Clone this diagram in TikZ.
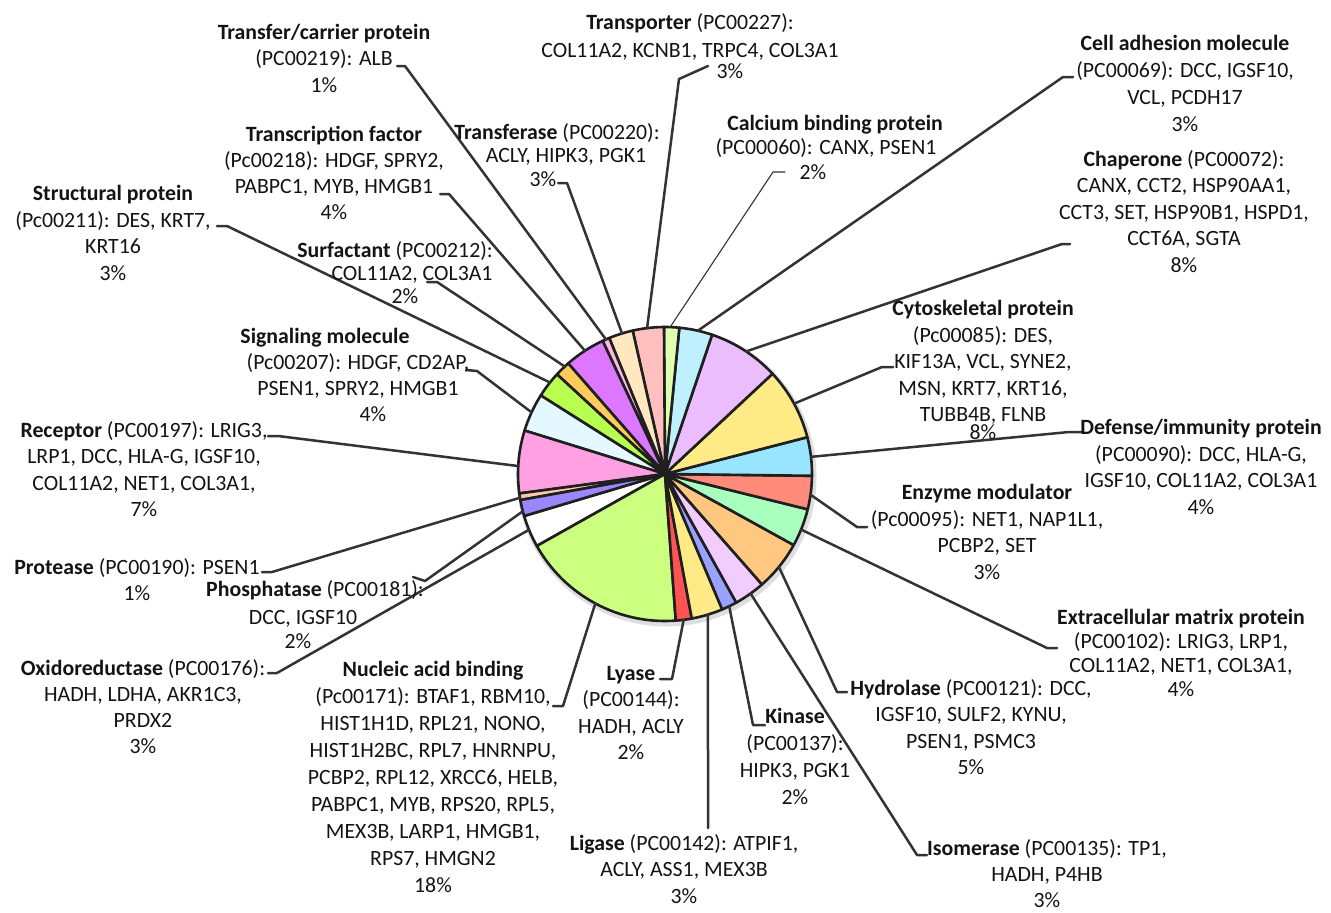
\documentclass[tikz,border=0pt]{standalone}
\usepackage{fontspec}
\setmainfont{Carlito}
\usetikzlibrary{calc}
\definecolor{cOxi}{HTML}{FFFFFF}
\definecolor{cNuc}{HTML}{CCFF80}
\definecolor{cLya}{HTML}{FF5252}
\definecolor{cLig}{HTML}{FFEA85}
\definecolor{cKin}{HTML}{99A3FF}
\definecolor{cIso}{HTML}{F2CCFF}
\definecolor{cHyd}{HTML}{FFC77F}
\definecolor{cECM}{HTML}{A8FFBE}
\definecolor{cEnz}{HTML}{FF8B7B}
\definecolor{cDef}{HTML}{99E5FF}
\definecolor{cCyto}{HTML}{FFEB85}
\definecolor{cChap}{HTML}{EBBDFC}
\definecolor{cCell}{HTML}{BFF0FF}
\definecolor{cCalc}{HTML}{E0FFB0}
\definecolor{cTP}{HTML}{FFBFBF}
\definecolor{cTfase}{HTML}{FFE8BF}
\definecolor{cTC}{HTML}{FFB8E0}
\definecolor{cTF}{HTML}{DE77FF}
\definecolor{cSurf}{HTML}{FFCC5C}
\definecolor{cStr}{HTML}{B8FF50}
\definecolor{cSig}{HTML}{E6F8FF}
\definecolor{cRec}{HTML}{FFA0E3}
\definecolor{cProt}{HTML}{FFC8A8}
\definecolor{cPho}{HTML}{9A86FF}
\definecolor{ink}{HTML}{141414}
\definecolor{leadc}{HTML}{333333}
\begin{document}
\begin{tikzpicture}[x=1pt,y=-1pt,
  lbl/.style={align=center, inner sep=0pt, anchor=north, text=ink, font=\fontsize{21.8}{26.5}\selectfont},
  leader/.style={draw=leadc, line width=2.5pt, line join=round, line cap=round},
  thinleader/.style={draw=leadc, line width=1.1pt, line join=round, line cap=round},
  slice/.style={draw=black!88, line width=2.6pt, line join=round}]
\useasboundingbox (0,0) rectangle (1331,913);
\fill[white] (0,0) rectangle (1331,913);

% ---------- pie ----------
\begin{scope}[shift={(665,474)}, yscale=-1]
  \fill[black!13] (1.5,-2.5) circle[radius=150];
  \foreach \a/\b/\c in {-163.4/-150.7/cOxi, -150.7/-85.8/cNuc, -85.8/-79.5/cLya,
      -79.5/-67.1/cLig, -67.1/-61/cKin, -61/-48.7/cIso, -48.7/-28.9/cHyd,
      -28.9/-13.9/cECM, -13.9/-0.7/cEnz, -0.7/14.5/cDef, 14.5/43/cCyto,
      43/71.3/cChap, 71.3/84.4/cCell, 84.4/90.4/cCalc, 90.4/102.7/cTP,
      102.7/112.3/cTfase, 112.3/115.1/cTC, 115.1/131.2/cTF, 131.2/137.3/cSurf,
      137.3/147.7/cStr, 147.7/162.8/cSig, 162.8/187.6/cRec, 187.6/190.2/cProt,
      190.2/196.6/cPho}
    \filldraw[slice, fill=\c] (0,0) -- (\a:147) arc[start angle=\a, end angle=\b, radius=147] -- cycle;
  % pie-side ends of the leader lines
  \coordinate (pTC) at (113.7:147);
  \coordinate (pTP) at (97:147);
  \coordinate (pTfase) at (107:147);
  \coordinate (pCalc) at (88:147);
  \coordinate (pCell) at (77.1:147);
  \coordinate (pChap) at (56.5:147);
  \coordinate (pCyto) at (28.6:147);
  \coordinate (pDef) at (6.7:147);
  \coordinate (pEnz) at (-8.1:147);
  \coordinate (pECM) at (-22.2:147);
  \coordinate (pHyd) at (-39.2:147);
  \coordinate (pIso) at (-54.4:147);
  \coordinate (pKin) at (-64.1:147);
  \coordinate (pLig) at (-73:147);
  \coordinate (pLya) at (-82.7:147);
  \coordinate (pNuc) at (-118.3:147);
  \coordinate (pOxi) at (202.3:147);
  \coordinate (pPho) at (194.7:147);
  \coordinate (pProt) at (189.3:147);
  \coordinate (pRec) at (176.9:147);
  \coordinate (pSig) at (155.2:147);
  \coordinate (pStr) at (141.5:147);
  \coordinate (pSurf) at (133:147);
  \coordinate (pTF) at (123:147);
\end{scope}

% ---------- label-side ends (ticks) ----------
\coordinate (aTC) at (397,66);   \coordinate (bTC) at (405,66);
\coordinate (aTP) at (708,66);   \coordinate (bTP) at (679,79);
\coordinate (aTfase) at (558,183); \coordinate (bTfase) at (567,183);
\coordinate (aCalc) at (785,172); \coordinate (bCalc) at (773,172);
\coordinate (aCell) at (1073,77); \coordinate (bCell) at (1063,77);
\coordinate (aChap) at (1070,244); \coordinate (bChap) at (1062,244);
\coordinate (aCyto) at (893,367); \coordinate (bCyto) at (882,367);
\coordinate (aDef) at (1081,432); \coordinate (bDef) at (1069,432);
\coordinate (aEnz) at (867,527); \coordinate (bEnz) at (857,527);
\coordinate (aECM) at (1057,648); \coordinate (bECM) at (1047,648);
\coordinate (aHyd) at (847,692); \coordinate (bHyd) at (837,692);
\coordinate (aIso) at (927,855); \coordinate (bIso) at (917,855);
\coordinate (aKin) at (765,725); \coordinate (bKin) at (753,725);
\coordinate (bLig) at (708,828);
\coordinate (aLya) at (660,679); \coordinate (bLya) at (672,679);
\coordinate (aNuc) at (553,706); \coordinate (bNuc) at (563,706);
\coordinate (aOxi) at (268,673); \coordinate (bOxi) at (277,673);
\coordinate (aPho) at (413,577); \coordinate (bPho) at (425,581);
\coordinate (aProt) at (262,572); \coordinate (bProt) at (272,572);
\coordinate (aRec) at (268,436); \coordinate (bRec) at (278,436);
\coordinate (aSig) at (466,370); \coordinate (bSig) at (477,371);
\coordinate (aStr) at (217,226); \coordinate (bStr) at (227,226);
\coordinate (aSurf) at (427,282); \coordinate (bSurf) at (437,282);
\coordinate (aTF) at (440,194); \coordinate (bTF) at (449,194);

% ---------- leader lines ----------
\foreach \n in {TC,TP,Tfase,Cell,Chap,Cyto,Def,Enz,ECM,Hyd,Iso,Kin,Lya,Nuc,Oxi,Pho,Prot,Rec,Sig,Str,Surf,TF}
  \draw[leader] (a\n) -- (b\n) -- (p\n);
\draw[thinleader] (aCalc) -- (bCalc) -- (pCalc);
\draw[leader] (bLig) -- (pLig);

% ---------- labels ----------
\node[lbl] (lbTC) at (324,24) {\textbf{Transfer/carrier protein}\\(PC00219): ALB\\1\%};
\node[lbl] (lbTP) at (690,13) {\textbf{Transporter} (PC00227):\\[1.5pt]COL11A2, KCNB1, TRPC4, COL3A1\\[-5.5pt]\hspace*{80pt}3\%};
\node[lbl, font=\fontsize{21.8}{23.5}\selectfont] (lbTfase) at (557,123) {\textbf{Transferase} (PC00220):\\\hspace*{18pt}ACLY, HIPK3, PGK1\\3\%\hspace*{28pt}};
\node[lbl, font=\fontsize{21.8}{24.5}\selectfont] (lbCalc) at (826,115) {\hspace*{18pt}\textbf{Calcium binding protein}\\(PC00060): CANX, PSEN1\\2\%\hspace*{26pt}};
\node[lbl, font=\fontsize{21.8}{27}\selectfont] (lbCell) at (1185,35) {\textbf{Cell adhesion molecule}\\(PC00069): DCC, IGSF10,\\VCL, PCDH17\\3\%};
\node[lbl] (lbChap) at (1184,150) {\textbf{Chaperone} (PC00072):\\CANX, CCT2, HSP90AA1,\\CCT3, SET, HSP90B1, HSPD1,\\CCT6A, SGTA\\8\%};
\node[lbl] (lbCyto) at (983,300) {\textbf{Cytoskeletal protein}\\(Pc00085): DES,\\KIF13A, VCL, SYNE2,\\MSN, KRT7, KRT16,\\TUBB4B, FLNB\\[-8.5pt]8\%};
\node[lbl] (lbDef) at (1201,419) {\textbf{Defense/immunity protein}\\(PC00090): DCC, HLA-G,\\IGSF10, COL11A2, COL3A1\\4\%};
\node[lbl, font=\fontsize{21.8}{26.7}\selectfont] (lbEnz) at (987,484) {\textbf{Enzyme modulator}\\(Pc00095): NET1, NAP1L1,\\PCBP2, SET\\3\%};
\node[lbl, font=\fontsize{21.8}{24}\selectfont] (lbECM) at (1181,609) {\textbf{Extracellular matrix protein}\\(PC00102): LRIG3, LRP1,\\COL11A2, NET1, COL3A1,\\4\%};
\node[lbl] (lbHyd) at (971,679) {\textbf{Hydrolase} (PC00121): DCC,\\IGSF10, SULF2, KYNU,\\PSEN1, PSMC3\\5\%};
\node[lbl, font=\fontsize{21.8}{26}\selectfont] (lbIso) at (1047,839) {\textbf{Isomerase} (PC00135): TP1,\\HADH, P4HB\\3\%};
\node[lbl, font=\fontsize{21.8}{27}\selectfont] (lbKin) at (795,708) {\textbf{Kinase}\\(PC00137):\\HIPK3, PGK1\\2\%};
\node[lbl] (lbLig) at (684,834) {\textbf{Ligase} (PC00142): ATPIF1,\\ACLY, ASS1, MEX3B\\3\%};
\node[lbl] (lbLya) at (631,666) {\textbf{Lyase}\\(PC00144):\\HADH, ACLY\\2\%};
\node[lbl, font=\fontsize{21.8}{27}\selectfont] (lbNuc) at (433,661) {\textbf{Nucleic acid binding}\\(Pc00171): BTAF1, RBM10,\\HIST1H1D, RPL21, NONO,\\HIST1H2BC, RPL7, HNRNPU,\\PCBP2, RPL12, XRCC6, HELB,\\PABPC1, MYB, RPS20, RPL5,\\MEX3B, LARP1, HMGB1,\\RPS7, HMGN2\\18\%};
\node[lbl, font=\fontsize{21.8}{26}\selectfont] (lbOxi) at (143,659) {\textbf{Oxidoreductase} (PC00176):\\HADH, LDHA, AKR1C3,\\PRDX2\\3\%};
\node[lbl, font=\fontsize{21.8}{26}\selectfont] (lbPho) at (303,580) {\hspace*{24pt}\textbf{Phosphatase} (PC00181):\\[2pt]DCC, IGSF10\\[-2pt]2\%\hspace*{10pt}};
\node[lbl, font=\fontsize{21.8}{26}\selectfont] (lbProt) at (137,558) {\textbf{Protease} (PC00190): PSEN1\\1\%};
\node[lbl] (lbRec) at (144,421) {\textbf{Receptor} (PC00197): LRIG3,\\LRP1, DCC, HLA-G, IGSF10,\\COL11A2, NET1, COL3A1,\\7\%};
\node[lbl, font=\fontsize{21.8}{26}\selectfont] (lbSig) at (358,328) {\textbf{Signaling molecule}\hspace*{66pt}\\(Pc00207): HDGF, CD2AP,\\PSEN1, SPRY2, HMGB1\\\hspace*{30pt}4\%};
\node[lbl] (lbStr) at (113,185) {\textbf{Structural protein}\\(Pc00211): DES, KRT7,\\KRT16\\3\%};
\node[lbl, font=\fontsize{21.8}{23}\selectfont] (lbSurf) at (405,241) {\textbf{Surfactant} (PC00212):\hspace*{20pt}\\\hspace*{14pt}COL11A2, COL3A1\\2\%};
\node[lbl, font=\fontsize{21.8}{26}\selectfont] (lbTF) at (334,126) {\textbf{Transcription factor}\\(Pc00218): HDGF, SPRY2,\\PABPC1, MYB, HMGB1\\4\%};
\end{tikzpicture}
\end{document}
